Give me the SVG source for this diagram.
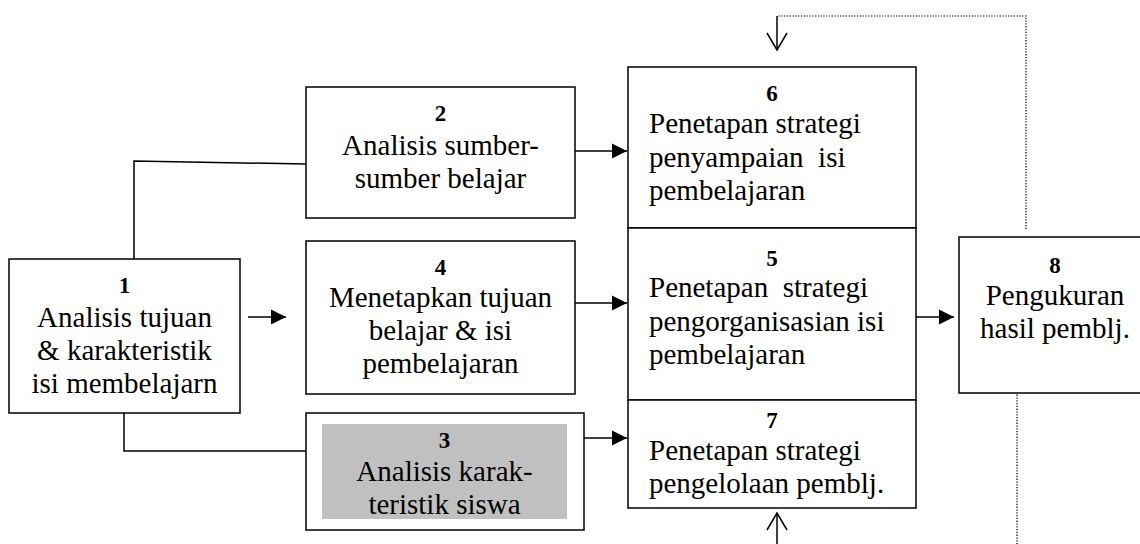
<svg xmlns="http://www.w3.org/2000/svg" width="1140" height="544" viewBox="0 0 1140 544">
<style>
.box{fill:#fff;stroke:#000;stroke-width:1.5}
.t{font-family:"Liberation Serif","Times New Roman",serif;font-size:29px;fill:#000;white-space:pre}
.c{text-anchor:middle}
.n{font-family:"Liberation Serif","Times New Roman",serif;font-size:23px;font-weight:bold;fill:#000;text-anchor:middle}
.ln{fill:none;stroke:#000;stroke-width:1.5}
.dot{fill:none;stroke:#000;stroke-width:1.2;stroke-dasharray:1.3 1.5}
</style>
<defs>
<marker id="arr" markerUnits="userSpaceOnUse" markerWidth="16" markerHeight="16" refX="15" refY="7.5" orient="auto" overflow="visible">
<path d="M0,0 L15,7.5 L0,15 z" fill="#000"/>
</marker>
<marker id="open" markerUnits="userSpaceOnUse" markerWidth="22" markerHeight="22" refX="17" refY="10" orient="auto" overflow="visible">
<path d="M0,0 L17,10 L0,20" fill="none" stroke="#000" stroke-width="1.5"/>
</marker>
</defs>

<g id="connectors">
<polyline class="ln" points="134,259 134,161 306,164"/>
<polyline class="ln" points="124,413 124,451 306,451"/>
<line class="ln" x1="248" y1="317" x2="286" y2="317" marker-end="url(#arr)"/>
<line class="ln" x1="570" y1="151" x2="627" y2="151" marker-end="url(#arr)"/>
<line class="ln" x1="570" y1="303" x2="627" y2="303" marker-end="url(#arr)"/>
<line class="ln" x1="570" y1="438" x2="627" y2="438" marker-end="url(#arr)"/>
<line class="ln" x1="916" y1="317" x2="954" y2="317" marker-end="url(#arr)"/>
<polyline class="dot" points="1026,229 1026,16 778,16"/>
<line class="ln" x1="777" y1="16" x2="777" y2="50" marker-end="url(#open)"/>
<line class="ln" x1="777" y1="544" x2="777" y2="513" marker-end="url(#open)"/>
<line class="dot" x1="1017" y1="375" x2="1017" y2="544"/>
</g>

<g id="node1">
<rect class="box" x="9" y="259" width="231" height="154"/>
<text class="n" x="124.5" y="293">1</text>
<text class="t c" x="124.5" y="327">Analisis tujuan</text>
<text class="t c" x="124.5" y="360">&amp; karakteristik</text>
<text class="t c" x="124.5" y="393">isi membelajarn</text>
</g>

<g id="node2">
<rect class="box" x="306" y="87" width="269" height="131"/>
<text class="n" x="440.5" y="121">2</text>
<text class="t c" x="440.5" y="155">Analisis sumber-</text>
<text class="t c" x="440.5" y="188">sumber belajar</text>
</g>

<g id="node4">
<rect class="box" x="306" y="241" width="269" height="153"/>
<text class="n" x="440.5" y="275">4</text>
<text class="t c" x="440.5" y="307">Menetapkan tujuan</text>
<text class="t c" x="440.5" y="340">belajar &amp; isi</text>
<text class="t c" x="440.5" y="373">pembelajaran</text>
</g>

<g id="node3">
<rect class="box" x="306" y="413" width="278" height="117"/>
<rect x="322" y="424" width="245" height="95" fill="#c0c0c0"/>
<text class="n" x="444.5" y="448">3</text>
<text class="t c" x="444.5" y="481">Analisis karak-</text>
<text class="t c" x="444.5" y="514">teristik siswa</text>
</g>

<g id="node6">
<rect class="box" x="628" y="67" width="288" height="161"/>
<text class="n" x="772" y="101">6</text>
<text class="t" x="649" y="133">Penetapan strategi</text>
<text class="t" x="649" y="167">penyampaian  isi</text>
<text class="t" x="649" y="200">pembelajaran</text>
</g>

<g id="node5">
<rect class="box" x="628" y="228" width="288" height="172"/>
<text class="n" x="772" y="266">5</text>
<text class="t" x="649" y="297">Penetapan  strategi</text>
<text class="t" x="649" y="331">pengorganisasian isi</text>
<text class="t" x="649" y="364">pembelajaran</text>
</g>

<g id="node7">
<rect class="box" x="628" y="400" width="288" height="108"/>
<text class="n" x="772" y="428">7</text>
<text class="t" x="649" y="460">Penetapan strategi</text>
<text class="t" x="649" y="493">pengelolaan pemblj.</text>
</g>

<g id="node8">
<rect class="box" x="959" y="237" width="200" height="156"/>
<text class="n" x="1055" y="273">8</text>
<text class="t c" x="1055" y="305">Pengukuran</text>
<text class="t c" x="1055" y="338">hasil pemblj.</text>
</g>
</svg>
